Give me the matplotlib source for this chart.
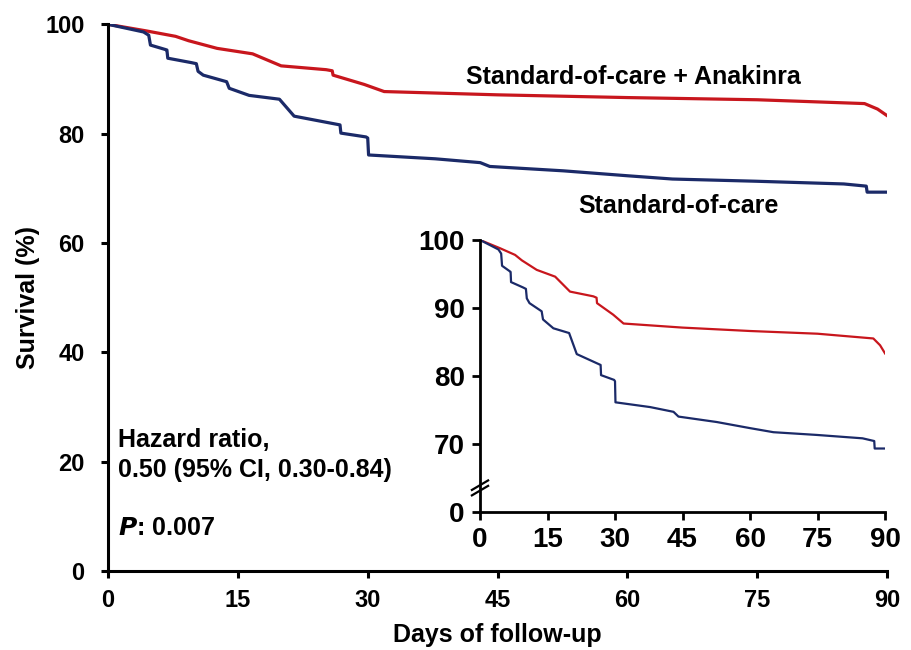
import matplotlib
matplotlib.use('Agg')
import matplotlib.pyplot as plt

plt.rcParams['font.family'] = ['Liberation Sans', 'DejaVu Sans']
plt.rcParams['font.weight'] = 'bold'

# Kaplan-Meier survival (days, %)
anakinra_days = [0, 4.4, 7.8, 9.3, 12.6, 16.7, 20, 25.2, 25.9, 26.0, 29.6, 31.9, 45, 60, 75, 87.4, 88.9, 90]
anakinra_surv = [100, 98.8, 97.8, 97.0, 95.6, 94.6, 92.4, 91.7, 91.5, 90.7, 89.0, 87.7, 87.1, 86.6, 86.2, 85.5, 84.5, 83.3]

soc_days = [0, 4.1, 4.7, 4.9, 6.6, 6.8, 6.9, 9.6, 10.2, 10.4, 11.0, 13.7, 14.0, 16.3, 19.8, 21.5, 26.8, 26.9,
            29.8, 30.0, 30.1, 37.8, 43, 44.1, 52.6, 60, 65.2, 74.8, 85, 87.6, 87.7, 90]
soc_surv = [100, 98.6, 98.0, 96.2, 95.4, 95.3, 93.8, 93.0, 92.8, 91.4, 90.7, 89.5, 88.3, 87.0, 86.3, 83.2, 81.6, 80.1,
            79.4, 79.2, 76.1, 75.4, 74.7, 74.0, 73.2, 72.3, 71.7, 71.3, 70.8, 70.4, 69.3, 69.3]

x_ticks = [0, 15, 30, 45, 60, 75, 90]
main_y_ticks = [0, 20, 40, 60, 80, 100]
inset_y_ticks = [60, 70, 80, 90, 100]
inset_y_labels = ['0', '70', '80', '90', '100']

red = '#c8161d'
blue = '#1b2a68'

fig = plt.figure(figsize=(9.11, 6.5), dpi=100)

# main panel
ax = fig.add_axes([0.1186, 0.1215, 0.8551, 0.8411])
ax.plot(anakinra_days, anakinra_surv, color=red, lw=2.3, solid_joinstyle='round')
ax.plot(soc_days, soc_surv, color=blue, lw=2.3, solid_joinstyle='round')
ax.set_xlim(0, 90)
ax.set_ylim(0, 100)
ax.set_xticks(x_ticks)
ax.set_yticks(main_y_ticks)
for s in ['top', 'right']:
    ax.spines[s].set_visible(False)
for s in ['left', 'bottom']:
    ax.spines[s].set_linewidth(2.2)
ax.tick_params(width=2.2, length=5, labelsize=17)
ax.tick_params(axis='y', pad=12)
ax.tick_params(axis='x', pad=8)
ax.set_xlabel('Days of follow-up', fontsize=18, fontweight='bold', labelpad=8)
ax.set_ylabel('Survival (%)', fontsize=18, fontweight='bold', labelpad=4)
for lab in ax.get_xticklabels() + ax.get_yticklabels():
    lab.set_fontweight('bold')

ax.text(60.7, 90.4, 'Standard-of-care + Anakinra', fontsize=18, fontweight='bold',
        ha='center', va='center')
ax.text(65.9, 66.8, 'Standard-of-care', fontsize=18, fontweight='bold',
        ha='center', va='center')
ax.text(1.2, 21.2, 'Hazard ratio,\n0.50 (95% CI, 0.30-0.84)', fontsize=18, fontweight='bold',
        ha='left', va='center', linespacing=1.3)
ax.text(1.2, 7.9, r'$\bfit{P}$: 0.007', fontsize=18, fontweight='bold', ha='left', va='center')

# inset zoom panel with broken y axis
ins = fig.add_axes([0.5269, 0.2128, 0.4446, 0.418])
ins.plot(anakinra_days, anakinra_surv, color=red, lw=1.6)
ins.plot(soc_days, soc_surv, color=blue, lw=1.6)
ins.set_xlim(0, 90)
ins.set_ylim(60, 100)
ins.set_xticks(x_ticks)
ins.set_yticks(inset_y_ticks)
ins.set_yticklabels(inset_y_labels)
ins.patch.set_alpha(0)
for s in ['top', 'right']:
    ins.spines[s].set_visible(False)
for s in ['left', 'bottom']:
    ins.spines[s].set_linewidth(2.0)
ins.tick_params(width=2.0, length=6, labelsize=20, pad=5)
for lab in ins.get_xticklabels() + ins.get_yticklabels():
    lab.set_fontweight('bold')

# break marks on the inset y axis
for dy in (0.0, 0.02):
    ins.plot([-0.02, 0.02], [0.06 + dy, 0.095 + dy], transform=ins.transAxes,
             color='black', lw=1.6, clip_on=False)

fig.savefig('out.png', dpi=100)
